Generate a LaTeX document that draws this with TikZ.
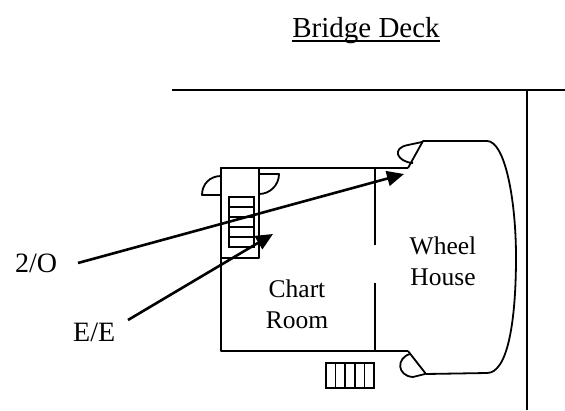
\documentclass[tikz,border=0pt]{standalone}
\usepackage{fontspec}
\setmainfont{Liberation Serif}
\usetikzlibrary{arrows.meta}
\tikzset{
  wall/.style={line width=1.8pt, line join=round},
  thin/.style={line width=1.5pt},
  arr/.style={line width=2.6pt, -{Triangle[length=17pt,width=15pt]}},
  lbl/.style={inner sep=0pt, font=\fontsize{28}{31}\selectfont},
  room/.style={inner sep=0pt, align=center, font=\fontsize{25.5}{31}\selectfont}
}
\begin{document}
\begin{tikzpicture}[x=1pt,y=-1pt]
\useasboundingbox (0,0) rectangle (565,410);
% deck edges
\draw[wall] (172,90) -- (565,90);
\draw[wall] (527,90) -- (527,410);
% chart room
\draw[wall] (408,168) -- (221,168) -- (221,351) -- (408,351);
\draw[wall] (375,168) -- (375,245);
\draw[wall] (375,283) -- (375,351);
% stair enclosure
\draw[wall] (221,168) rectangle (259,258);
\draw[thin] (229,197) rectangle (254,247);
\foreach \y in {207,217,227,237} \draw[thin] (229,\y) -- (254,\y);
% doors of the stair enclosure
\draw[wall] (221,176) .. controls (210,176) and (202,184) .. (202,195) -- (221,195);
\draw[wall] (259,174) -- (279,174) .. controls (279,185) and (270,194) .. (259,194);
% wheel house
\draw[wall] (408,168) -- (423,141) -- (487,141)
  .. controls (505,141) and (516,200) .. (516,257)
  .. controls (516,320) and (508,373) .. (487,373) -- (426,374) -- (408,351);
% wheel house doors
\draw[wall] (413,163) .. controls (397,162) and (391,148) .. (408,145) -- (422,142);
\draw[wall] (410,354) .. controls (396,358) and (397,376) .. (413,377) -- (425,374);
% lower stairs
\draw[thin] (326,363) rectangle (374,388);
\foreach \x in {335.6,345.2,354.8,364.4} \draw[thin] (\x,363) -- (\x,388);
% labels
\node[lbl, anchor=base, font=\fontsize{29}{31}\selectfont] (title) at (366,37) {Bridge Deck};
\draw[line width=1.6pt] ([yshift=-4pt]title.base west) -- ([yshift=-4pt]title.base east);
\node[lbl, anchor=base west] (so) at (15,272) {2/O};
\node[lbl, anchor=base west] (ee) at (73,341) {E/E};
\node[room] (chart) at (297,304) {Chart\\Room};
\node[room] (wheel) at (443,261) {Wheel\\House};
% arrows
\coordinate (soS) at (78,263);
\coordinate (soT) at (404,174);
\coordinate (eeS) at (128,320);
\coordinate (eeT) at (273,234);
\draw[arr] (soS) -- (soT);
\draw[arr] (eeS) -- (eeT);
\end{tikzpicture}
\end{document}
